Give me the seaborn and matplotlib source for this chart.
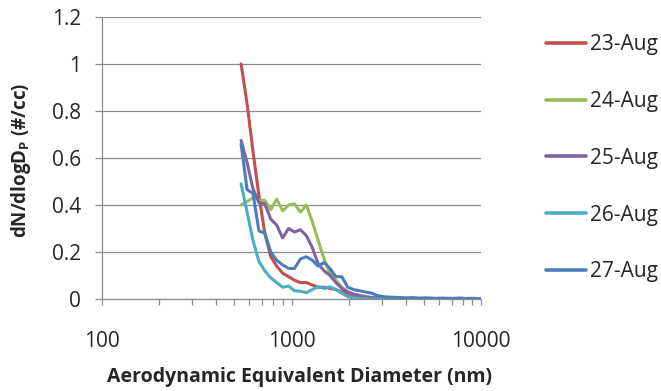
import numpy as np
import pandas as pd
import matplotlib
matplotlib.use("Agg")
import matplotlib.pyplot as plt
from matplotlib.ticker import FixedLocator, FuncFormatter, LogLocator, NullFormatter
import seaborn as sns

# ---------------------------------------------------------------------------
# Data
diameters_nm = [542, 583, 626, 673, 723, 777, 835, 898, 965, 1037, 1114, 1197,
                1286, 1382, 1486, 1596, 1715, 1843, 1981, 2129, 2288, 2458,
                2642, 2839, 3051, 3278, 3523, 3786, 4068, 4371, 4698, 5048,
                5425, 5829, 6264, 6732, 7234, 7774, 8354, 8977, 9647, 10370]

aug23 = [1.00, 0.83, 0.63, 0.44, 0.28, 0.18, 0.14, 0.11, 0.095, 0.08, 0.07, 0.07,
         0.06, 0.05, 0.05, 0.045, 0.04, 0.03, 0.02, 0.01, 0.005, 0.003,
         0.002, 0.001, 0.001, 0.0, 0.0, 0.0, 0.0, 0.0, 0.0, 0.0,
         0.0, 0.0, 0.0, 0.0, 0.0, 0.0, 0.0, 0.0, 0.0, 0.0]
aug24 = [0.40, 0.415, 0.43, 0.42, 0.42, 0.38, 0.425, 0.375, 0.40, 0.405, 0.37, 0.40,
         0.33, 0.25, 0.17, 0.11, 0.08, 0.05, 0.03, 0.02, 0.015, 0.01,
         0.007, 0.005, 0.003, 0.002, 0.002, 0.001, 0.001, 0.001, 0.0, 0.0,
         0.0, 0.0, 0.0, 0.0, 0.0, 0.0, 0.0, 0.0, 0.0, 0.0]
aug25 = [0.675, 0.58, 0.47, 0.41, 0.405, 0.34, 0.315, 0.26, 0.30, 0.285, 0.295, 0.27,
         0.22, 0.15, 0.12, 0.10, 0.07, 0.045, 0.03, 0.02, 0.015, 0.01,
         0.006, 0.004, 0.003, 0.002, 0.002, 0.001, 0.001, 0.001, 0.001, 0.0,
         0.0, 0.0, 0.0, 0.0, 0.0, 0.0, 0.0, 0.0, 0.0, 0.0]
aug26 = [0.49, 0.37, 0.25, 0.16, 0.12, 0.09, 0.07, 0.05, 0.055, 0.035, 0.033, 0.027,
         0.04, 0.052, 0.045, 0.052, 0.04, 0.025, 0.01, 0.005, 0.002, 0.001,
         0.0, 0.0, 0.0, 0.0, 0.0, 0.0, 0.0, 0.0, 0.0, 0.0,
         0.0, 0.0, 0.0, 0.0, 0.0, 0.0, 0.0, 0.0, 0.0, 0.0]
aug27 = [0.66, 0.465, 0.45, 0.29, 0.28, 0.20, 0.165, 0.145, 0.13, 0.13, 0.17, 0.18,
         0.165, 0.14, 0.155, 0.13, 0.095, 0.095, 0.05, 0.04, 0.035, 0.03,
         0.025, 0.015, 0.01, 0.008, 0.007, 0.006, 0.005, 0.006, 0.004, 0.005,
         0.004, 0.003, 0.004, 0.003, 0.003, 0.004, 0.002, 0.003, 0.002, 0.002]

series_names = ["23-Aug", "24-Aug", "25-Aug", "26-Aug", "27-Aug"]
series_values = [aug23, aug24, aug25, aug26, aug27]
colours = ["#C0504D", "#9BBB59", "#8064A2", "#4BACC6", "#4A7EBB"]

x_ticks = [100, 1000, 10000]
y_ticks = [0, 0.2, 0.4, 0.6, 0.8, 1.0, 1.2]

# long-form table for seaborn
df = pd.concat(
    [pd.DataFrame({"diameter": diameters_nm, "value": vals, "day": name})
     for name, vals in zip(series_names, series_values)],
    ignore_index=True,
)

# ---------------------------------------------------------------------------
sns.set_style("white")
plt.rcParams["font.family"] = ["Open Sans", "DejaVu Sans"]
plt.rcParams["mathtext.default"] = "regular"

W, H = 661, 391
fig = plt.figure(figsize=(W / 100, H / 100), dpi=100)
ax = fig.add_axes([102 / W, 1 - 299 / H, 379 / W, 282 / H])

sns.lineplot(
    data=df, x="diameter", y="value", hue="day",
    hue_order=series_names, palette=colours,
    estimator=None, sort=False, linewidth=2.2, ax=ax,
)

ax.set_xscale("log")
ax.set_xlim(100, 10000)
ax.set_ylim(0, 1.2)

grid_col = "#8C8C8C"
ax.yaxis.set_major_locator(FixedLocator(y_ticks))
ax.yaxis.set_major_formatter(FuncFormatter(lambda v, _: f"{v:g}"))
ax.xaxis.set_major_locator(FixedLocator(x_ticks))
ax.xaxis.set_major_formatter(FuncFormatter(lambda v, _: f"{v:.0f}"))
ax.xaxis.set_minor_locator(LogLocator(base=10, subs=np.arange(2, 10)))
ax.xaxis.set_minor_formatter(NullFormatter())

ax.yaxis.grid(True, color=grid_col, linewidth=0.9)
ax.xaxis.grid(False)
ax.set_axisbelow(True)

for side in ["top", "right"]:
    ax.spines[side].set_visible(False)
for side in ["left", "bottom"]:
    ax.spines[side].set_color(grid_col)
    ax.spines[side].set_linewidth(0.9)

ax.tick_params(axis="y", which="major", direction="out", length=5, width=0.9,
               color=grid_col, labelsize=15, pad=10, left=True)
ax.tick_params(axis="x", which="both", direction="out", length=4, width=0.9,
               color=grid_col, bottom=True)
ax.tick_params(axis="x", which="major", labelsize=15, pad=19)

ax.set_xlabel("Aerodynamic Equivalent Diameter (nm)", fontsize=14, fontweight="bold")
ax.set_ylabel(r"dN/dlogD$_\mathregular{P}$ (#/cc)", fontsize=13.5, fontweight="bold")
ax.xaxis.set_label_coords(0.52, -0.24)
ax.yaxis.set_label_coords(-0.182, 0.493)

handles, labels = ax.get_legend_handles_labels()
ax.legend_.remove()
for h in handles:
    h.set_linewidth(2.6)
fig.legend(
    handles, labels, loc="upper left", bbox_to_anchor=(546 / W, 1 - 34 / H),
    frameon=False, fontsize=15, handlelength=1.9, handletextpad=0.2,
    labelspacing=1.72, borderpad=0, borderaxespad=0,
)

fig.savefig("out.png", dpi=100)
plt.close(fig)
